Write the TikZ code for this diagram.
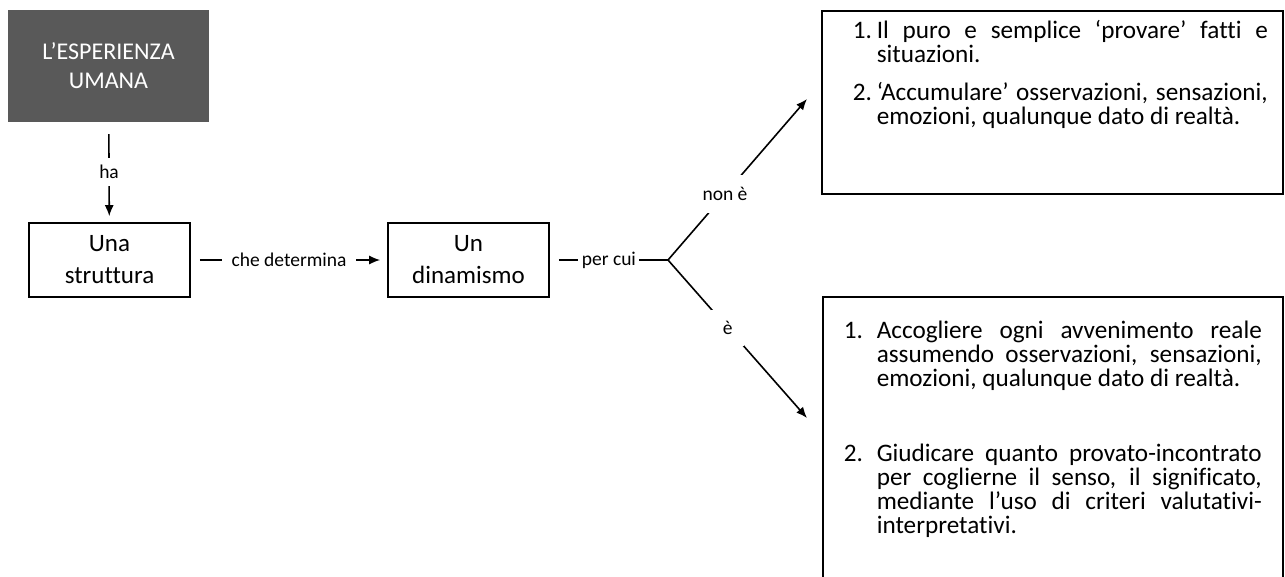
\documentclass[tikz,border=0pt]{standalone}
\usepackage{fontspec}
\setmainfont{Carlito}[Ligatures={TeX,NoCommon}]
\usetikzlibrary{arrows.meta,positioning}
\definecolor{espgray}{HTML}{595959}

\newlength{\numw}
\newcommand{\voce}[2]{\par\hangindent=\numw\hangafter=1\noindent\makebox[\numw][l]{#1}#2\par}

\begin{document}
\begin{tikzpicture}[x=1pt, y=-1pt,
    box/.style = {draw, line width=1.6pt, minimum width=161pt, minimum height=74pt, align=center, font=\fontsize{25}{32}\selectfont},
    dark/.style = {fill=espgray, text=white, minimum width=201pt, minimum height=112pt, align=center, font=\fontsize{24}{29}\selectfont},
    listbox/.style = {draw, line width=1.6pt, anchor=north west, align=justify, font=\fontsize{25.2}{24}\selectfont},
    lbl/.style = {fill=white, inner sep=0pt, font=\fontsize{19.5}{20}\selectfont},
    conn/.style = {line width=1.6pt},
    arr/.style = {conn, -{Latex[length=11pt, width=9pt]}}]
\useasboundingbox (0,0) rectangle (1285,576);
    \node[dark] (esp) at (108.5,66) {L’ESPERIENZA\\UMANA};
    \node[box] (str) at (109.5,260) {Una\\struttura};
    \node[box] (din) at (468.5,260) {Un\\dinamismo};
    \coordinate (fork) at (668,260);
    \coordinate (tipnon) at (807,99);
    \coordinate (tipe) at (807,418);
    % caselle con gli elenchi
    \node[listbox, text width=431pt, inner xsep=15pt, inner ysep=4pt] (nonbox) at (821,10) {\setlength{\numw}{24pt}\leftskip=16pt
        \voce{1.}{Il puro e semplice ‘provare’ fatti e\linebreak situazioni.}
        \vspace{14pt}
        \voce{2.}{‘Accumulare’ osservazioni, sensazioni,\linebreak emozioni, qualunque dato di realtà.}
        \vspace{41pt}\null};
    \node[listbox, text width=418pt, inner xsep=21pt, inner ysep=18pt] (ebox) at (822,296) {\setlength{\numw}{33pt}
        \voce{1.}{Accogliere ogni avvenimento reale\linebreak assumendo osservazioni, sensazioni,\linebreak emozioni, qualunque dato di realtà.}
        \vspace{51pt}
        \voce{2.}{Giudicare quanto provato-incontrato\linebreak per coglierne il senso, il significato,\linebreak mediante l’uso di criteri valutativi-\linebreak interpretativi.}
        \vspace{60pt}\null};
    % collegamenti
    \draw[arr, shorten <=12pt, shorten >=6pt] (esp) -- node[lbl, inner ysep=7pt] {ha} (str);
    \draw[arr, shorten <=9pt, shorten >=7pt] (str) -- node[lbl, inner xsep=9.5pt] {che determina} (din);
    \draw[conn, shorten <=9pt] (din) -- node[lbl, inner xsep=3.5pt] {per cui} (fork);
    \draw[arr] (fork) -- node[lbl, pos=0.41, inner sep=12pt] {non è} (tipnon);
    \draw[arr] (fork) -- node[lbl, pos=0.43, inner sep=11.5pt] {è} (tipe);
\end{tikzpicture}
\end{document}
